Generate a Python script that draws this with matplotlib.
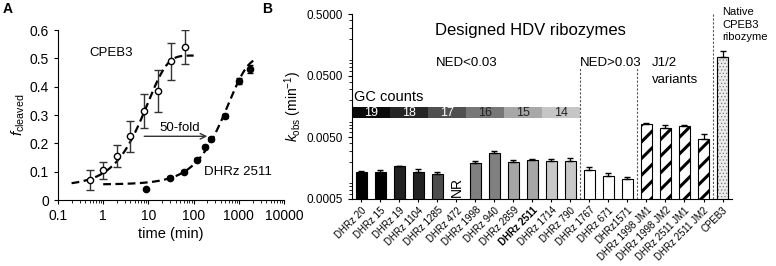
import numpy as np
import matplotlib
matplotlib.use("Agg")
import matplotlib.pyplot as plt

plt.rcParams['font.family'] = ['Liberation Sans', 'DejaVu Sans']
plt.rcParams['mathtext.fontset'] = 'custom'
plt.rcParams['mathtext.rm'] = 'Liberation Sans'
plt.rcParams['mathtext.it'] = 'Liberation Sans:italic'

# ---- Panel A data: fraction cleaved vs time ----
cpeb3_t = [0.5, 1, 2, 4, 8, 16, 32, 64]
cpeb3_f = [0.07, 0.105, 0.155, 0.225, 0.315, 0.385, 0.49, 0.54]
cpeb3_err = [0.035, 0.03, 0.04, 0.055, 0.06, 0.075, 0.065, 0.06]

dhrz_t = [9, 30, 60, 120, 180, 240, 480, 1000, 1800]
dhrz_f = [0.04, 0.079, 0.10, 0.143, 0.188, 0.215, 0.296, 0.42, 0.463]
dhrz_err = [0.004, 0.005, 0.005, 0.006, 0.006, 0.008, 0.008, 0.01, 0.015]

# single-exponential fits: f0, amplitude, k (1/min)
cpeb3_fit = (0.05, 0.46, 0.104)
dhrz_fit = (0.055, 0.45, 0.0017)

# ---- Panel B data: kobs per construct ----
names = ["DHRz 20", "DHRz 15", "DHRz 19", "DHRz 1104", "DHRz 1285", "DHRz 472",
         "DHRz 1998", "DHRz 940", "DHRz 2859", "DHRz 2511", "DHRz 1714", "DHRz 790",
         "DHRz 1767", "DHRz 671", "DHRz1571", "DHRz 1998 JM1", "DHRz 1998 JM2",
         "DHRz 2511 JM1", "DHRz 2511 JM2", "CPEB3"]
kobs = [0.00136, 0.00135, 0.00171, 0.00138, 0.00126, np.nan,
        0.00194, 0.00281, 0.00199, 0.00214, 0.00207, 0.00207,
        0.00148, 0.00119, 0.00104, 0.0082, 0.00707, 0.0076, 0.00464, 0.101]
kobs_err = [0.00007, 0.00014, 0.00003, 0.00014, 0.0001, 0,
            0.00012, 0.00022, 0.00013, 0.0001, 0.00016, 0.00021,
            0.00017, 0.00011, 0.00011, 0.0002, 0.00074, 0.0002, 0.001, 0.025]
gc_counts = [19, 18, 17, 16, 15, 14]
gc_colors = ['#0a0a0a', '#262626', '#505050', '#777777', '#a8a8a8', '#c6c6c6']
bar_colors = ['#000000', '#000000', '#222222', '#222222', '#4d4d4d', '#4d4d4d',
              '#808080', '#808080', '#a6a6a6', '#a6a6a6', '#c8c8c8', '#c8c8c8',
              'white', 'white', 'white', 'white', 'white', 'white', 'white', '#ececec']

fig = plt.figure(figsize=(7.76, 2.66), dpi=100)

# ================= Panel A =================
axA = fig.add_axes([0.0747, 0.248, 0.2915, 0.639])
axA.errorbar(cpeb3_t, cpeb3_f, yerr=cpeb3_err, fmt='o', mfc='white', mec='black',
             ms=4.5, mew=1, ecolor='#333333', elinewidth=1, capsize=3, zorder=3)
axA.errorbar(dhrz_t, dhrz_f, yerr=dhrz_err, fmt='o', color='black',
             ms=4.5, ecolor='black', elinewidth=1, capsize=2, zorder=3)

t1 = np.logspace(np.log10(0.2), np.log10(100), 200)
f0, a, k = cpeb3_fit
axA.plot(t1, f0 + a * (1 - np.exp(-k * t1)), color='black', lw=1.6, ls=(0, (3.5, 2)))
t2 = np.logspace(0, np.log10(2150), 200)
f0, a, k = dhrz_fit
axA.plot(t2, f0 + a * (1 - np.exp(-k * t2)), color='black', lw=1.6, ls=(0, (3.5, 2)))

axA.annotate('', xy=(230, 0.225), xytext=(7, 0.225),
             arrowprops=dict(arrowstyle='->', color='#333333', lw=1))
axA.text(48, 0.255, '50-fold', ha='center', va='center', fontsize=9.5)
axA.text(0.5, 0.52, 'CPEB3', ha='left', va='center', fontsize=9.5)
axA.text(170, 0.099, 'DHRz 2511', ha='left', va='center', fontsize=9.5)

axA.set_xscale('log')
axA.set_xlim(0.1, 10000)
axA.set_ylim(0, 0.6)
axA.set_xticks([0.1, 1, 10, 100, 1000, 10000])
axA.set_xticklabels(['0.1', '1', '10', '100', '1000', '10000'])
axA.set_yticks(np.arange(0, 0.61, 0.1))
axA.set_yticklabels(['0', '0.1', '0.2', '0.3', '0.4', '0.5', '0.6'])
axA.tick_params(labelsize=10, length=3, direction='out')
axA.tick_params(which='minor', length=2)
for s in ['top', 'right']:
    axA.spines[s].set_visible(False)
axA.set_xlabel('time (min)', fontsize=10.5, labelpad=3)
axA.set_ylabel(r'$f_{\rm cleaved}$', fontsize=11, labelpad=2)
fig.text(0.004, 0.965, 'A', fontsize=10, fontweight='bold', va='center')

# ================= Panel B =================
axB = fig.add_axes([0.4536, 0.252, 0.4897, 0.695])
x = np.arange(len(names))
kplot = np.nan_to_num(np.array(kobs), nan=0.0)
hatches = [''] * 15 + ['//'] * 4 + ['']
for i in range(len(names) - 1):
    with plt.rc_context({'hatch.linewidth': 2.2}):
        axB.bar(x[i], kplot[i], width=0.55, color=bar_colors[i], hatch=hatches[i],
                edgecolor='black', linewidth=0.8, zorder=2)
# native CPEB3: light stippled bar
with plt.rc_context({'hatch.linewidth': 0.5}):
    axB.bar(x[-1], kplot[-1], width=0.55, color=bar_colors[-1], hatch='.....',
            edgecolor='#777777', linewidth=0.8, zorder=2)
    axB.bar(x[-1], kplot[-1], width=0.55, color='none', edgecolor='black',
            linewidth=0.8, zorder=2)
valid = ~np.isnan(np.array(kobs))
axB.errorbar(x[valid], np.array(kobs)[valid],
             yerr=[np.zeros(valid.sum()), np.array(kobs_err)[valid]],
             fmt='none', ecolor='black', elinewidth=0.9, capsize=2.5, zorder=3)

axB.set_yscale('log')
axB.set_ylim(0.0005, 0.5)
axB.set_xlim(-0.5, len(names) - 0.5)
axB.set_yticks([0.0005, 0.005, 0.05, 0.5])
axB.set_yticklabels(['0.0005', '0.0050', '0.0500', '0.5000'])
axB.set_xticks(x)
axB.set_xticklabels(names, rotation=45, ha='right', rotation_mode='anchor', fontsize=7)
axB.get_xticklabels()[9].set_fontweight('bold')
axB.tick_params(axis='y', labelsize=8.5, length=3)
axB.tick_params(axis='y', which='minor', length=2)
axB.tick_params(axis='x', length=2.5, pad=2)
for s in ['top', 'right']:
    axB.spines[s].set_visible(False)
axB.set_ylabel(r'$k_{\rm obs}$ (min$^{-1}$)', fontsize=10, labelpad=2)

# NR marker
axB.text(5, 0.00078, 'NR', rotation=90, ha='center', va='center', fontsize=10)

# GC count strip
for j, (gc, col) in enumerate(zip(gc_counts, gc_colors)):
    axB.bar(2 * j + 0.5, 0.0155 - 0.0103, width=2, bottom=0.0103, color=col,
            edgecolor='none', zorder=1)
    axB.text(2 * j + 0.5, np.sqrt(0.0103 * 0.0155), str(gc), ha='center', va='center',
             fontsize=9, color='white' if j < 3 else '#222222')
axB.text(-0.4, 0.0175, 'GC counts', ha='left', va='bottom', fontsize=10.5)

# dividers
for xd, ytop in [(11.5, 0.07), (14.5, 0.07), (18.5, 0.5)]:
    axB.plot([xd, xd], [0.0005, ytop], color='#555555', lw=0.8, ls=(0, (2, 1.5)))

axB.text(8.87, 0.27, 'Designed HDV ribozymes', ha='center', va='center', fontsize=12)
axB.text(5.55, 0.08, 'NED<0.03', ha='center', va='center', fontsize=9.5)
axB.text(13.13, 0.08, 'NED>0.03', ha='center', va='center', fontsize=9.5)
axB.text(15.3, 0.08, 'J1/2', ha='left', va='center', fontsize=9.5)
axB.text(15.3, 0.0425, 'variants', ha='left', va='center', fontsize=9.5)
fig.text(0.931, 0.972, 'Native\nCPEB3\nribozyme', ha='left', va='top', fontsize=8,
         linespacing=1.3)
fig.text(0.338, 0.965, 'B', fontsize=10, fontweight='bold', va='center')

fig.savefig('out.png', dpi=100)
